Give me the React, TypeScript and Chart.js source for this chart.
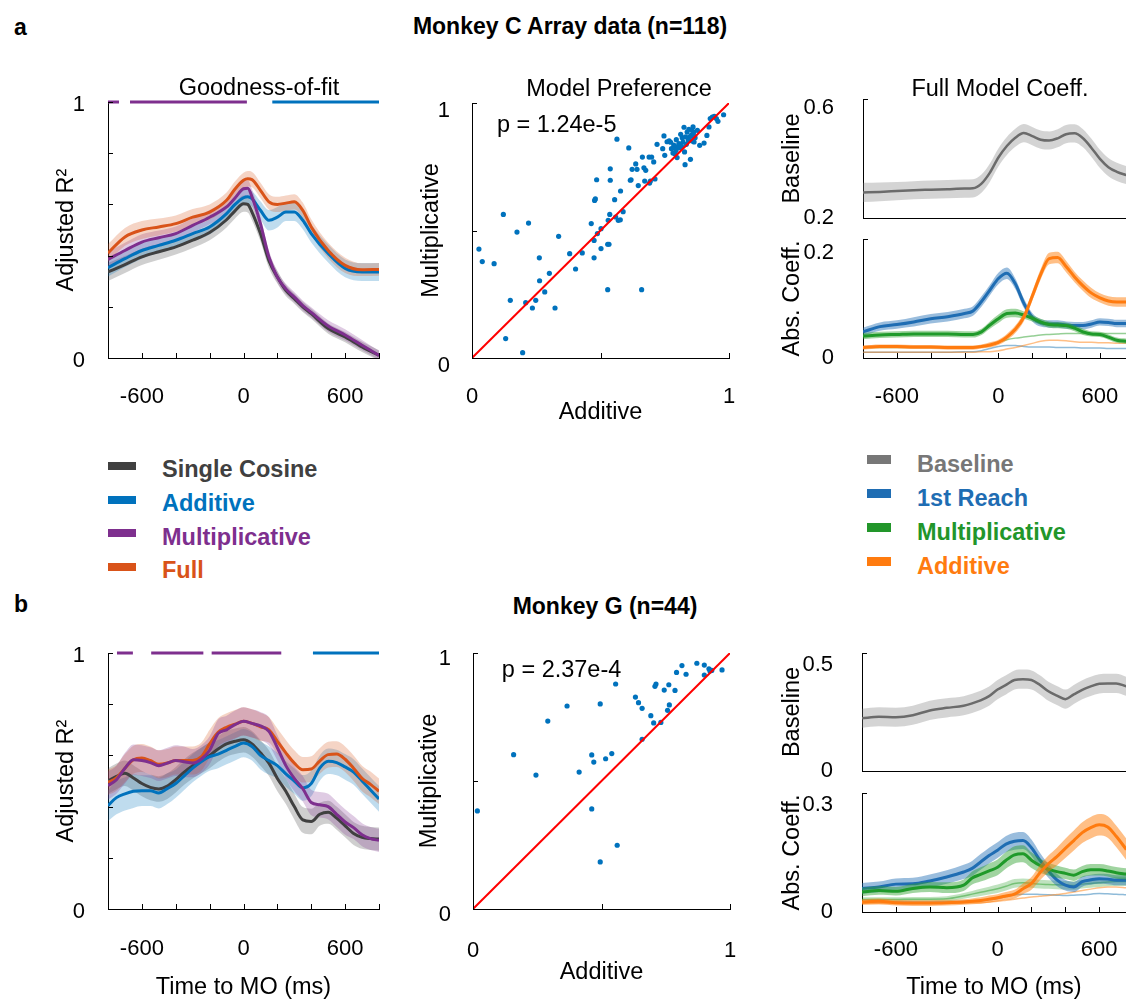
import React, { useEffect, useRef } from 'react';
import { Chart, registerables } from 'chart.js';
Chart.register(...registerables);

const FONT = '"Liberation Sans", Arial, Helvetica, sans-serif';
Chart.defaults.font.family = FONT;

// ---------------- Colors ----------------
const C_COS = '#404040';
const C_ADD = '#0072BD';
const C_MULT = '#7E2F8E';
const C_FULL = '#D95319';
const C_BASE = '#6b6b6b';
const C_REACH = '#1f6db3';
const C_GREEN = '#1f9a2a';
const C_ORANGE = '#ff7b0f';

// ---------------- Goodness-of-fit, monkey C ----------------
const timeFitA = [-800, -700, -600, -500, -400, -300, -200, -100, -50, 0, 25, 50, 100, 150, 200, 250, 300, 350, 400, 500, 600, 700, 800];
const cosA = [0.336, 0.365, 0.395, 0.415, 0.434, 0.46, 0.49, 0.54, 0.575, 0.603, 0.6, 0.57, 0.486, 0.38, 0.316, 0.264, 0.232, 0.2, 0.173, 0.115, 0.082, 0.043, 0.01];
const cosAErr = [0.035, 0.033, 0.032, 0.031, 0.03, 0.03, 0.03, 0.03, 0.03, 0.032, 0.032, 0.032, 0.03, 0.028, 0.025, 0.022, 0.02, 0.02, 0.02, 0.02, 0.02, 0.02, 0.02];
const addA = [0.353, 0.388, 0.42, 0.44, 0.46, 0.486, 0.512, 0.564, 0.6, 0.626, 0.63, 0.622, 0.577, 0.538, 0.55, 0.57, 0.57, 0.538, 0.486, 0.408, 0.35, 0.336, 0.336];
const addAErr = [0.035, 0.033, 0.032, 0.03, 0.03, 0.03, 0.03, 0.03, 0.03, 0.03, 0.03, 0.03, 0.035, 0.04, 0.04, 0.035, 0.035, 0.035, 0.035, 0.035, 0.035, 0.035, 0.035];
const multA = [0.385, 0.42, 0.453, 0.47, 0.486, 0.518, 0.55, 0.59, 0.625, 0.661, 0.663, 0.63, 0.525, 0.395, 0.316, 0.27, 0.238, 0.205, 0.178, 0.125, 0.09, 0.05, 0.01];
const multAErr = [0.03, 0.03, 0.03, 0.028, 0.028, 0.028, 0.028, 0.028, 0.028, 0.03, 0.03, 0.03, 0.028, 0.025, 0.022, 0.02, 0.02, 0.02, 0.02, 0.022, 0.022, 0.02, 0.018];
const fullA = [0.41, 0.473, 0.5, 0.512, 0.525, 0.55, 0.57, 0.616, 0.66, 0.694, 0.7, 0.697, 0.655, 0.61, 0.6, 0.605, 0.61, 0.577, 0.512, 0.42, 0.362, 0.345, 0.346];
const fullAErr = [0.035, 0.035, 0.035, 0.033, 0.032, 0.032, 0.03, 0.03, 0.03, 0.03, 0.03, 0.03, 0.03, 0.03, 0.03, 0.03, 0.03, 0.03, 0.03, 0.03, 0.03, 0.025, 0.025];
const sigMultA = [[-800, -735], [-670, 20]];
const sigAddA = [[170, 800]];

// ---------------- Goodness-of-fit, monkey G ----------------
const timeFitB = [-800, -750, -700, -650, -600, -550, -500, -450, -400, -350, -300, -250, -200, -150, -100, -50, 0, 50, 100, 150, 200, 250, 300, 350, 400, 450, 500, 550, 600, 650, 700, 750, 800];
const fullB = [0.495, 0.512, 0.55, 0.583, 0.59, 0.58, 0.565, 0.57, 0.58, 0.58, 0.58, 0.594, 0.645, 0.69, 0.71, 0.722, 0.733, 0.725, 0.712, 0.7, 0.655, 0.61, 0.57, 0.544, 0.547, 0.578, 0.603, 0.605, 0.585, 0.55, 0.51, 0.487, 0.46];
const fullBErr = [0.05, 0.05, 0.055, 0.055, 0.055, 0.055, 0.055, 0.055, 0.055, 0.055, 0.055, 0.055, 0.055, 0.055, 0.055, 0.055, 0.055, 0.055, 0.055, 0.05, 0.05, 0.05, 0.05, 0.05, 0.05, 0.05, 0.05, 0.05, 0.05, 0.05, 0.05, 0.05, 0.05];
const multB = [0.482, 0.505, 0.55, 0.583, 0.58, 0.572, 0.56, 0.57, 0.58, 0.575, 0.57, 0.585, 0.62, 0.685, 0.7, 0.72, 0.733, 0.725, 0.715, 0.694, 0.63, 0.56, 0.51, 0.47, 0.416, 0.407, 0.4, 0.37, 0.34, 0.318, 0.29, 0.275, 0.268];
const multBErr = [0.055, 0.055, 0.06, 0.06, 0.06, 0.06, 0.06, 0.06, 0.06, 0.06, 0.055, 0.055, 0.055, 0.055, 0.055, 0.055, 0.055, 0.055, 0.055, 0.055, 0.05, 0.05, 0.05, 0.05, 0.05, 0.05, 0.05, 0.05, 0.05, 0.045, 0.045, 0.045, 0.045];
const cosB = [0.5, 0.518, 0.53, 0.512, 0.49, 0.475, 0.469, 0.48, 0.505, 0.535, 0.56, 0.58, 0.6, 0.625, 0.645, 0.655, 0.661, 0.645, 0.61, 0.57, 0.51, 0.46, 0.4, 0.348, 0.342, 0.37, 0.378, 0.355, 0.325, 0.295, 0.28, 0.275, 0.273];
const cosBErr = [0.05, 0.05, 0.05, 0.05, 0.05, 0.05, 0.05, 0.05, 0.05, 0.05, 0.05, 0.05, 0.05, 0.05, 0.05, 0.05, 0.05, 0.05, 0.05, 0.05, 0.05, 0.05, 0.05, 0.05, 0.05, 0.045, 0.045, 0.045, 0.045, 0.045, 0.045, 0.045, 0.045];
const addB = [0.404, 0.435, 0.45, 0.46, 0.462, 0.462, 0.453, 0.47, 0.49, 0.52, 0.55, 0.575, 0.595, 0.605, 0.62, 0.635, 0.648, 0.635, 0.6, 0.58, 0.56, 0.528, 0.5, 0.473, 0.49, 0.55, 0.577, 0.572, 0.555, 0.535, 0.5, 0.465, 0.43];
const addBErr = [0.06, 0.065, 0.065, 0.065, 0.06, 0.06, 0.06, 0.06, 0.055, 0.055, 0.055, 0.055, 0.055, 0.055, 0.055, 0.055, 0.055, 0.055, 0.055, 0.055, 0.05, 0.05, 0.05, 0.05, 0.05, 0.05, 0.05, 0.05, 0.05, 0.05, 0.05, 0.05, 0.05];
const sigMultB = [[-747, -653], [-545, -237], [-188, 223]];
const sigAddB = [[410, 800]];

// ---------------- Model preference scatter ----------------
const scatterAX = [0.027, 0.04, 0.086, 0.122, 0.175, 0.22, 0.131, 0.149, 0.197, 0.209, 0.235, 0.248, 0.263, 0.262, 0.283, 0.301, 0.323, 0.337, 0.38, 0.403, 0.429, 0.464, 0.475, 0.475, 0.477, 0.48, 0.485, 0.488, 0.502, 0.502, 0.528, 0.533, 0.528, 0.53, 0.536, 0.538, 0.538, 0.555, 0.559, 0.564, 0.569, 0.577, 0.578, 0.588, 0.61, 0.616, 0.619, 0.623, 0.637, 0.642, 0.647, 0.66, 0.663, 0.669, 0.672, 0.676, 0.689, 0.691, 0.694, 0.699, 0.707, 0.712, 0.72, 0.742, 0.747, 0.75, 0.759, 0.767, 0.773, 0.785, 0.789, 0.794, 0.795, 0.798, 0.805, 0.812, 0.818, 0.821, 0.825, 0.827, 0.829, 0.831, 0.837, 0.842, 0.844, 0.85, 0.853, 0.857, 0.86, 0.863, 0.864, 0.868, 0.877, 0.886, 0.903, 0.914, 0.922, 0.927, 0.935, 0.943, 0.951, 0.957, 0.979, 0.808, 0.791, 0.776, 0.782, 0.834, 0.847, 0.815, 0.802, 0.865, 0.855];
const scatterAY = [0.427, 0.378, 0.37, 0.563, 0.494, 0.529, 0.076, 0.226, 0.021, 0.217, 0.196, 0.226, 0.303, 0.393, 0.259, 0.332, 0.196, 0.477, 0.409, 0.349, 0.412, 0.527, 0.461, 0.393, 0.618, 0.624, 0.699, 0.488, 0.507, 0.429, 0.446, 0.446, 0.268, 0.54, 0.563, 0.742, 0.697, 0.621, 0.553, 0.858, 0.54, 0.542, 0.655, 0.574, 0.824, 0.697, 0.699, 0.74, 0.761, 0.74, 0.676, 0.268, 0.788, 0.746, 0.694, 0.736, 0.788, 0.686, 0.694, 0.788, 0.769, 0.702, 0.838, 0.821, 0.871, 0.795, 0.848, 0.852, 0.846, 0.835, 0.801, 0.814, 0.856, 0.786, 0.841, 0.877, 0.864, 0.847, 0.905, 0.808, 0.758, 0.867, 0.886, 0.854, 0.897, 0.779, 0.873, 0.851, 0.906, 0.886, 0.847, 0.864, 0.893, 0.834, 0.843, 0.873, 0.906, 0.939, 0.945, 0.948, 0.939, 0.928, 0.954, 0.825, 0.824, 0.821, 0.804, 0.838, 0.867, 0.83, 0.83, 0.869, 0.893];
const scatterBX = [0.017, 0.158, 0.245, 0.291, 0.366, 0.413, 0.462, 0.462, 0.47, 0.495, 0.495, 0.516, 0.54, 0.555, 0.561, 0.632, 0.644, 0.658, 0.658, 0.692, 0.703, 0.708, 0.712, 0.731, 0.744, 0.757, 0.762, 0.764, 0.786, 0.792, 0.813, 0.829, 0.871, 0.9, 0.9, 0.918, 0.929, 0.969, 0.922];
const scatterBY = [0.383, 0.603, 0.523, 0.734, 0.793, 0.535, 0.391, 0.602, 0.574, 0.801, 0.184, 0.587, 0.607, 0.879, 0.249, 0.828, 0.806, 0.784, 0.663, 0.755, 0.727, 0.87, 0.879, 0.729, 0.855, 0.776, 0.876, 0.797, 0.854, 0.924, 0.951, 0.917, 0.96, 0.953, 0.914, 0.938, 0.932, 0.934, 0.93];
const unityX = [0, 1];
const unityY = [0, 1];
const pTextA = 'p = 1.24e-5';
const pTextB = 'p = 2.37e-4';

// ---------------- Full model coefficients ----------------
const timeR = [-800, -700, -600, -500, -400, -300, -200, -150, -100, -50, 0, 50, 100, 150, 200, 250, 300, 350, 400, 450, 500, 550, 600, 650, 700, 760];
const baseA = [0.293, 0.295, 0.298, 0.301, 0.303, 0.305, 0.307, 0.308, 0.325, 0.365, 0.42, 0.462, 0.492, 0.509, 0.498, 0.485, 0.482, 0.49, 0.505, 0.508, 0.49, 0.455, 0.415, 0.385, 0.368, 0.355];
const baseAErr = [0.035, 0.034, 0.033, 0.033, 0.033, 0.033, 0.033, 0.033, 0.033, 0.033, 0.033, 0.033, 0.033, 0.033, 0.033, 0.033, 0.033, 0.033, 0.033, 0.033, 0.033, 0.033, 0.033, 0.033, 0.033, 0.033];
const reachA = [0.05, 0.06, 0.064, 0.069, 0.075, 0.079, 0.085, 0.09, 0.108, 0.13, 0.152, 0.162, 0.142, 0.105, 0.078, 0.067, 0.065, 0.065, 0.063, 0.062, 0.062, 0.065, 0.069, 0.068, 0.066, 0.066];
const reachAErr = [0.008, 0.008, 0.008, 0.009, 0.009, 0.009, 0.009, 0.009, 0.01, 0.01, 0.011, 0.011, 0.01, 0.009, 0.008, 0.007, 0.007, 0.007, 0.007, 0.007, 0.007, 0.007, 0.007, 0.007, 0.007, 0.007];
const greenA = [0.042, 0.044, 0.045, 0.046, 0.046, 0.046, 0.045, 0.045, 0.05, 0.063, 0.075, 0.085, 0.086, 0.082, 0.076, 0.069, 0.064, 0.063, 0.062, 0.057, 0.05, 0.046, 0.045, 0.04, 0.034, 0.032];
const greenAErr = [0.006, 0.006, 0.006, 0.006, 0.006, 0.006, 0.006, 0.006, 0.006, 0.007, 0.008, 0.008, 0.008, 0.007, 0.006, 0.006, 0.006, 0.006, 0.006, 0.006, 0.006, 0.005, 0.005, 0.005, 0.005, 0.005];
const orangeA = [0.02, 0.022, 0.022, 0.021, 0.021, 0.02, 0.02, 0.02, 0.022, 0.025, 0.03, 0.04, 0.055, 0.078, 0.118, 0.16, 0.19, 0.192, 0.175, 0.155, 0.138, 0.124, 0.115, 0.109, 0.107, 0.107];
const orangeAErr = [0.004, 0.004, 0.004, 0.004, 0.004, 0.004, 0.004, 0.004, 0.004, 0.005, 0.005, 0.006, 0.007, 0.008, 0.009, 0.01, 0.011, 0.011, 0.011, 0.01, 0.01, 0.01, 0.009, 0.009, 0.009, 0.009];
const thinReachA = [0.011, 0.011, 0.011, 0.011, 0.011, 0.011, 0.012, 0.012, 0.014, 0.018, 0.022, 0.024, 0.024, 0.022, 0.021, 0.021, 0.021, 0.02, 0.02, 0.02, 0.019, 0.019, 0.019, 0.018, 0.018, 0.018];
const thinGreenA = [0.02, 0.02, 0.02, 0.02, 0.02, 0.02, 0.02, 0.021, 0.022, 0.025, 0.03, 0.035, 0.038, 0.04, 0.042, 0.044, 0.045, 0.046, 0.047, 0.047, 0.047, 0.047, 0.047, 0.047, 0.047, 0.047];
const thinOrangeA = [0.011, 0.011, 0.011, 0.011, 0.011, 0.011, 0.011, 0.011, 0.012, 0.012, 0.014, 0.017, 0.02, 0.024, 0.028, 0.032, 0.034, 0.034, 0.033, 0.031, 0.03, 0.03, 0.029, 0.029, 0.028, 0.028];

const baseB = [0.248, 0.255, 0.253, 0.262, 0.285, 0.297, 0.307, 0.318, 0.332, 0.352, 0.383, 0.405, 0.428, 0.432, 0.428, 0.405, 0.375, 0.355, 0.338, 0.36, 0.382, 0.398, 0.41, 0.412, 0.412, 0.398];
const baseBErr = [0.045, 0.045, 0.045, 0.045, 0.045, 0.045, 0.045, 0.045, 0.045, 0.045, 0.045, 0.045, 0.045, 0.045, 0.045, 0.045, 0.045, 0.045, 0.045, 0.045, 0.045, 0.045, 0.045, 0.045, 0.045, 0.045];
const reachB = [0.066, 0.07, 0.078, 0.079, 0.087, 0.098, 0.112, 0.122, 0.14, 0.158, 0.173, 0.19, 0.198, 0.2, 0.18, 0.145, 0.115, 0.09, 0.075, 0.07, 0.085, 0.09, 0.093, 0.092, 0.089, 0.089];
const reachBErr = [0.015, 0.015, 0.016, 0.017, 0.018, 0.019, 0.02, 0.021, 0.022, 0.022, 0.022, 0.023, 0.024, 0.024, 0.023, 0.021, 0.019, 0.017, 0.015, 0.014, 0.014, 0.014, 0.014, 0.014, 0.014, 0.014];
const greenB = [0.056, 0.06, 0.058, 0.066, 0.07, 0.068, 0.075, 0.095, 0.105, 0.115, 0.125, 0.145, 0.16, 0.163, 0.145, 0.13, 0.12, 0.113, 0.108, 0.103, 0.113, 0.118, 0.118, 0.115, 0.11, 0.106];
const greenBErr = [0.012, 0.012, 0.012, 0.013, 0.014, 0.015, 0.016, 0.018, 0.02, 0.021, 0.022, 0.023, 0.024, 0.024, 0.022, 0.02, 0.018, 0.017, 0.016, 0.016, 0.016, 0.016, 0.016, 0.016, 0.016, 0.016];
const orangeB = [0.028, 0.03, 0.026, 0.025, 0.025, 0.026, 0.028, 0.03, 0.032, 0.036, 0.04, 0.045, 0.05, 0.065, 0.08, 0.11, 0.135, 0.155, 0.178, 0.2, 0.222, 0.236, 0.244, 0.238, 0.212, 0.175];
const orangeBErr = [0.008, 0.008, 0.008, 0.008, 0.008, 0.008, 0.008, 0.008, 0.009, 0.01, 0.01, 0.011, 0.012, 0.015, 0.018, 0.021, 0.023, 0.025, 0.027, 0.028, 0.029, 0.03, 0.03, 0.03, 0.03, 0.03];
const thinReachB = [0.028, 0.028, 0.028, 0.028, 0.028, 0.029, 0.03, 0.03, 0.031, 0.034, 0.038, 0.043, 0.048, 0.05, 0.05, 0.049, 0.048, 0.047, 0.046, 0.047, 0.048, 0.05, 0.052, 0.051, 0.05, 0.048];
const thinGreenB = [0.035, 0.035, 0.035, 0.036, 0.036, 0.037, 0.045, 0.05, 0.055, 0.06, 0.065, 0.072, 0.08, 0.082, 0.08, 0.078, 0.077, 0.076, 0.075, 0.074, 0.078, 0.08, 0.082, 0.084, 0.085, 0.085];
const thinGreenBErr = [0.006, 0.006, 0.006, 0.006, 0.006, 0.007, 0.008, 0.009, 0.01, 0.011, 0.012, 0.012, 0.012, 0.012, 0.012, 0.012, 0.012, 0.012, 0.012, 0.012, 0.012, 0.012, 0.012, 0.012, 0.012, 0.012];
const thinOrangeB = [0.024, 0.024, 0.024, 0.024, 0.024, 0.025, 0.025, 0.026, 0.026, 0.028, 0.03, 0.033, 0.036, 0.039, 0.042, 0.044, 0.046, 0.049, 0.052, 0.056, 0.06, 0.064, 0.068, 0.07, 0.07, 0.068];

// ---------------- Ticks ----------------
const timeTickLabels = [-600, 0, 600];
const timeTickMarks = [-800, -600, -400, -200, 0, 200, 400, 600, 800];
const fitYLabels = [0, 1];
const fitYMarks = [0, 0.2, 0.4, 0.6, 0.8, 1];
const unitLabels = [0, 1];
const unitMarks = [0, 0.5, 1];
const baseAYLabels = [0.2, 0.6];
const absAYLabels = [0, 0.2];
const baseBYLabels = [0, 0.5];
const absBYLabels = [0, 0.3];

// ---------------- Helpers ----------------
const pts = (xs: number[], ys: number[]) => xs.map((x, i) => ({ x, y: ys[i] }));

function band(xs: number[], ys: number[], err: number[], color: string) {
  return [
    { data: xs.map((x, i) => ({ x, y: ys[i] + err[i] })), borderWidth: 0, pointRadius: 0, fill: '+1', backgroundColor: color, cubicInterpolationMode: 'monotone' },
    { data: xs.map((x, i) => ({ x, y: ys[i] - err[i] })), borderWidth: 0, pointRadius: 0, fill: false, backgroundColor: color, cubicInterpolationMode: 'monotone' },
  ];
}
function line(xs: number[], ys: number[], color: string, width = 3) {
  return { data: pts(xs, ys), borderColor: color, borderWidth: width, pointRadius: 0, fill: false, cubicInterpolationMode: 'monotone' };
}
function sig(segs: number[][], color: string) {
  return {
    data: segs.flatMap(([a, b]) => [{ x: a, y: 1 }, { x: b, y: 1 }, { x: b, y: null }]),
    borderColor: color, borderWidth: 3, pointRadius: 0, fill: false, clip: false, spanGaps: false,
  };
}
// bottom-to-top list -> chart.js datasets with matching draw order
function ordered(list: any[]) {
  return list.map((d, i) => ({ ...d, order: list.length - i }));
}

function decor(o: { xTicks?: number[]; yTicks?: number[]; text?: string; tx?: number; ty?: number }) {
  return {
    id: 'decor',
    afterDatasetsDraw(chart: any) {
      const { ctx, chartArea: ca, scales } = chart;
      ctx.save();
      ctx.strokeStyle = '#000';
      ctx.lineWidth = 1;
      const len = 5;
      (o.xTicks || []).forEach((v) => {
        const p = Math.round(scales.x.getPixelForValue(v)) + 0.5;
        ctx.beginPath(); ctx.moveTo(p, ca.bottom); ctx.lineTo(p, ca.bottom - len); ctx.stroke();
      });
      (o.yTicks || []).forEach((v) => {
        const p = Math.round(scales.y.getPixelForValue(v)) + 0.5;
        ctx.beginPath(); ctx.moveTo(ca.left, p); ctx.lineTo(ca.left + len, p); ctx.stroke();
      });
      if (o.text) {
        ctx.fillStyle = '#000';
        ctx.font = `23.5px ${FONT}`;
        ctx.textAlign = 'left';
        ctx.textBaseline = 'alphabetic';
        ctx.fillText(o.text, scales.x.getPixelForValue(o.tx), scales.y.getPixelForValue(o.ty));
      }
      ctx.restore();
    },
  };
}

const zeroPad = (s: any) => { s.paddingLeft = 0; s.paddingRight = 0; s.paddingTop = 0; s.paddingBottom = 0; };

type AxisCfg = {
  xMin: number; xMax: number; yMin: number; yMax: number;
  xLabels: number[]; yLabels: number[]; showX: boolean;
  xTitle?: string; yTitle: string;
  leftW: number; bottomH: number; xPad: number; yPad: number; yOff: number;
};
function scales(a: AxisCfg) {
  return {
    x: {
      type: 'linear', min: a.xMin, max: a.xMax,
      afterBuildTicks: (s: any) => { s.ticks = a.xLabels.map((v) => ({ value: v })); },
      afterFit: (s: any) => { s.height = a.bottomH; zeroPad(s); },
      ticks: { display: a.showX, autoSkip: false, maxRotation: 0, padding: a.xPad, color: '#000', font: { family: FONT, size: 22 }, callback: (v: any) => String(v) },
      grid: { display: false },
      border: { display: true, color: '#000', width: 1 },
      title: a.xTitle ? { display: true, text: a.xTitle, color: '#000', font: { family: FONT, size: 23.5 }, padding: 0 } : { display: false },
    },
    y: {
      type: 'linear', min: a.yMin, max: a.yMax,
      afterBuildTicks: (s: any) => { s.ticks = a.yLabels.map((v) => ({ value: v })); },
      afterFit: (s: any) => { s.width = a.leftW; zeroPad(s); },
      ticks: { autoSkip: false, padding: a.yPad, labelOffset: a.yOff, color: '#000', font: { family: FONT, size: 22 }, callback: (v: any) => String(v) },
      grid: { display: false },
      border: { display: true, color: '#000', width: 1 },
      title: { display: true, text: a.yTitle, color: '#000', font: { family: FONT, size: 23.5 }, padding: 0 },
    },
  };
}

type Area = { l: number; t: number; r: number; b: number };
type Spec = { key: string; area: Area; leftW: number; bottomH: number; padTop: number; padRight: number; padBottom: number; build: () => any };

function ChartBox({ spec }: { spec: Spec }) {
  const ref = useRef<HTMLCanvasElement | null>(null);
  const left = spec.area.l - spec.leftW;
  const top = spec.area.t - spec.padTop;
  const width = spec.leftW + (spec.area.r - spec.area.l) + spec.padRight;
  const height = spec.padTop + (spec.area.b - spec.area.t) + spec.bottomH + spec.padBottom;
  useEffect(() => {
    if (!ref.current) return;
    const cfg = spec.build();
    cfg.options = {
      ...cfg.options,
      animation: false,
      responsive: false,
      devicePixelRatio: 1,
      events: [],
      layout: { padding: { left: 0, top: spec.padTop, right: spec.padRight, bottom: spec.padBottom } },
      plugins: { legend: { display: false }, tooltip: { enabled: false } },
    };
    const chart = new Chart(ref.current, cfg);
    return () => chart.destroy();
  }, []);
  return (
    <div style={{ position: 'absolute', left, top, width, height }}>
      <canvas ref={ref} width={width} height={height} style={{ width, height, display: 'block' }} />
    </div>
  );
}

function fitChart(time: number[], series: { y: number[]; e: number[]; c: string; band: string }[], sigs: any[], xPad: number, xTitle?: string, bottomH = 50) {
  return () => ({
    type: 'line',
    data: {
      datasets: ordered([
        ...series.flatMap((s) => band(time, s.y, s.e, s.band)),
        ...series.map((s) => line(time, s.y, s.c, 3)),
        ...sigs,
      ]),
    },
    options: { scales: scales({ xMin: -800, xMax: 800, yMin: 0, yMax: 1, xLabels: timeTickLabels, yLabels: fitYLabels, showX: true, xTitle, yTitle: 'Adjusted R²', leftW: 56, bottomH, xPad, yPad: 15, yOff: 3 }) },
    plugins: [decor({ xTicks: timeTickMarks, yTicks: fitYMarks })],
  });
}

function scatterChart(xs: number[], ys: number[], text: string, tx: number, ty: number, leftW: number, bottomH: number, xPad: number, yOff: number) {
  return () => ({
    type: 'scatter',
    data: {
      datasets: ordered([
        { data: pts(xs, ys), pointRadius: 2.6, pointBackgroundColor: C_ADD, pointBorderWidth: 0, showLine: false },
        { data: pts(unityX, unityY), borderColor: '#ff0000', borderWidth: 2, pointRadius: 0, showLine: true, fill: false },
      ]),
    },
    options: { scales: scales({ xMin: 0, xMax: 1, yMin: 0, yMax: 1, xLabels: unitLabels, yLabels: unitLabels, showX: true, xTitle: 'Additive', yTitle: 'Multiplicative', leftW, bottomH, xPad, yPad: 14, yOff }) },
    plugins: [decor({ xTicks: unitMarks, yTicks: unitMarks, text, tx, ty })],
  });
}

function baseChart(ys: number[], err: number[], xMax: number, yMin: number, yMax: number, yLabels: number[], leftW: number) {
  return () => ({
    type: 'line',
    data: { datasets: ordered([...band(timeR, ys, err, 'rgba(120,120,120,0.32)'), line(timeR, ys, C_BASE, 2.5)]) },
    options: { scales: scales({ xMin: -800, xMax, yMin, yMax, xLabels: timeTickLabels, yLabels, showX: false, yTitle: 'Baseline', leftW, bottomH: 0, xPad: 18, yPad: 21, yOff: 0 }) },
    plugins: [decor({ yTicks: [yMax] })],
  });
}

function absChart(
  main: { y: number[]; e: number[]; c: string; band: string }[],
  thin: { y: number[]; c: string; e?: number[]; band?: string }[],
  xMax: number, yMax: number, yLabels: number[], leftW: number, bottomH: number, xPad: number, xTitle?: string,
) {
  return () => ({
    type: 'line',
    data: {
      datasets: ordered([
        ...thin.flatMap((t) => (t.e && t.band ? band(timeR, t.y, t.e, t.band) : [])),
        ...thin.map((t) => line(timeR, t.y, t.c, 1.5)),
        ...main.flatMap((m) => [...band(timeR, m.y, m.e, m.band), line(timeR, m.y, m.c, 3)]),
      ]),
    },
    options: { scales: scales({ xMin: -800, xMax, yMin: 0, yMax, xLabels: timeTickLabels, yLabels, showX: true, xTitle, yTitle: 'Abs. Coeff.', leftW, bottomH, xPad, yPad: 21, yOff: 0 }) },
    plugins: [decor({ xTicks: timeTickMarks, yTicks: [yMax] })],
  });
}

const bandCol = (r: number, g: number, b: number, a: number) => `rgba(${r},${g},${b},${a})`;

const specs: Spec[] = [
  {
    key: 'fitA', area: { l: 108, t: 102, r: 379, b: 358 }, leftW: 56, bottomH: 50, padTop: 18, padRight: 10, padBottom: 0,
    build: fitChart(timeFitA, [
      { y: cosA, e: cosAErr, c: C_COS, band: bandCol(64, 64, 64, 0.25) },
      { y: addA, e: addAErr, c: C_ADD, band: bandCol(0, 114, 189, 0.25) },
      { y: multA, e: multAErr, c: C_MULT, band: bandCol(126, 47, 142, 0.25) },
      { y: fullA, e: fullAErr, c: C_FULL, band: bandCol(217, 83, 25, 0.25) },
    ], [sig(sigMultA, C_MULT), sig(sigAddA, C_ADD)], 18),
  },
  {
    key: 'scA', area: { l: 472, t: 103, r: 729, b: 358 }, leftW: 55, bottomH: 69, padTop: 18, padRight: 12, padBottom: 0,
    build: scatterChart(scatterAX, scatterAY, pTextA, 0.097, 0.886, 55, 69, 18, 8),
  },
  {
    key: 'baseA', area: { l: 863, t: 99, r: 1126, b: 218 }, leftW: 85, bottomH: 0, padTop: 10, padRight: 0, padBottom: 16,
    build: baseChart(baseA, baseAErr, 754, 0.2, 0.633, baseAYLabels, 85),
  },
  {
    key: 'absA', area: { l: 863, t: 239, r: 1126, b: 358 }, leftW: 85, bottomH: 50, padTop: 10, padRight: 0, padBottom: 0,
    build: absChart([
      { y: reachA, e: reachAErr, c: C_REACH, band: bandCol(31, 109, 179, 0.45) },
      { y: greenA, e: greenAErr, c: C_GREEN, band: bandCol(44, 160, 44, 0.45) },
      { y: orangeA, e: orangeAErr, c: C_ORANGE, band: bandCol(255, 127, 14, 0.5) },
    ], [
      { y: thinReachA, c: bandCol(31, 119, 180, 0.5) },
      { y: thinGreenA, c: bandCol(44, 160, 44, 0.5) },
      { y: thinOrangeA, c: bandCol(255, 127, 14, 0.5) },
    ], 754, 0.2275, absAYLabels, 85, 50, 18),
  },
  {
    key: 'fitB', area: { l: 108, t: 653, r: 379, b: 909 }, leftW: 56, bottomH: 93, padTop: 18, padRight: 10, padBottom: 0,
    build: fitChart(timeFitB, [
      { y: cosB, e: cosBErr, c: C_COS, band: bandCol(64, 64, 64, 0.25) },
      { y: addB, e: addBErr, c: C_ADD, band: bandCol(0, 114, 189, 0.25) },
      { y: fullB, e: fullBErr, c: C_FULL, band: bandCol(217, 83, 25, 0.25) },
      { y: multB, e: multBErr, c: C_MULT, band: bandCol(126, 47, 142, 0.25) },
    ], [sig(sigMultB, C_MULT), sig(sigAddB, C_ADD)], 19, 'Time to MO (ms)', 93),
  },
  {
    key: 'scB', area: { l: 473, t: 653, r: 730, b: 909 }, leftW: 58, bottomH: 78, padTop: 18, padRight: 12, padBottom: 0,
    build: scatterChart(scatterBX, scatterBY, pTextB, 0.112, 0.907, 58, 78, 21, 6),
  },
  {
    key: 'baseB', area: { l: 862, t: 653, r: 1126, b: 771 }, leftW: 84, bottomH: 0, padTop: 10, padRight: 0, padBottom: 16,
    build: baseChart(baseB, baseBErr, 758, 0, 0.555, baseBYLabels, 84),
  },
  {
    key: 'absB', area: { l: 862, t: 793, r: 1126, b: 912 }, leftW: 84, bottomH: 90, padTop: 10, padRight: 0, padBottom: 0,
    build: absChart([
      { y: reachB, e: reachBErr, c: C_REACH, band: bandCol(31, 109, 179, 0.45) },
      { y: greenB, e: greenBErr, c: C_GREEN, band: bandCol(44, 160, 44, 0.45) },
      { y: orangeB, e: orangeBErr, c: C_ORANGE, band: bandCol(255, 127, 14, 0.5) },
    ], [
      { y: thinReachB, c: bandCol(31, 119, 180, 0.5) },
      { y: thinGreenB, c: bandCol(44, 160, 44, 0.5), e: thinGreenBErr, band: bandCol(44, 160, 44, 0.3) },
      { y: thinOrangeB, c: bandCol(255, 127, 14, 0.5) },
    ], 758, 0.333, absBYLabels, 84, 90, 17, 'Time to MO (ms)'),
  },
];

// ---------------- Text helpers ----------------
function Txt({ x, base, size = 23.5, bold = false, color = '#000', center = false, children }: any) {
  return (
    <div style={{
      position: 'absolute', left: x, top: base - 0.8465 * size, fontFamily: FONT, fontSize: size,
      fontWeight: bold ? 700 : 400, color, lineHeight: 1, whiteSpace: 'nowrap',
      transform: center ? 'translateX(-50%)' : undefined,
    }}>{children}</div>
  );
}

const fitLegend = [
  { label: 'Single Cosine', color: C_COS },
  { label: 'Additive', color: C_ADD },
  { label: 'Multiplicative', color: C_MULT },
  { label: 'Full', color: C_FULL },
];
const coeffLegend = [
  { label: 'Baseline', color: '#777777' },
  { label: '1st Reach', color: C_REACH },
  { label: 'Multiplicative', color: '#22962a' },
  { label: 'Additive', color: C_ORANGE },
];

export default function App() {
  return (
    <div style={{ position: 'absolute', left: 0, top: 0, width: 1126, height: 1001, overflow: 'hidden', background: '#fff' }}>
      {specs.map((s) => <ChartBox key={s.key} spec={s} />)}

      <Txt x={14} base={35} bold size={23}>a</Txt>
      <Txt x={570} base={34} bold size={23} center>Monkey C Array data (n=118)</Txt>
      <Txt x={14} base={612} bold size={23}>b</Txt>
      <Txt x={605} base={614} bold size={23} center>Monkey G (n=44)</Txt>

      <Txt x={259} base={96} center>Goodness-of-fit</Txt>
      <Txt x={619} base={97} center>Model Preference</Txt>
      <Txt x={1000} base={97} center>Full Model Coeff.</Txt>

      {fitLegend.map((l, i) => (
        <React.Fragment key={'fl' + i}>
          <div style={{ position: 'absolute', left: 108, top: 462 + i * 33.7, width: 28, height: 8, background: l.color }} />
          <Txt x={162} base={478 + i * 33.7} bold color={l.color}>{l.label}</Txt>
        </React.Fragment>
      ))}
      {coeffLegend.map((l, i) => (
        <React.Fragment key={'cl' + i}>
          <div style={{ position: 'absolute', left: 867, top: 455 + i * 34, width: 24, height: 9, background: l.color }} />
          <Txt x={917} base={473 + i * 34} bold color={l.color}>{l.label}</Txt>
        </React.Fragment>
      ))}
    </div>
  );
}
